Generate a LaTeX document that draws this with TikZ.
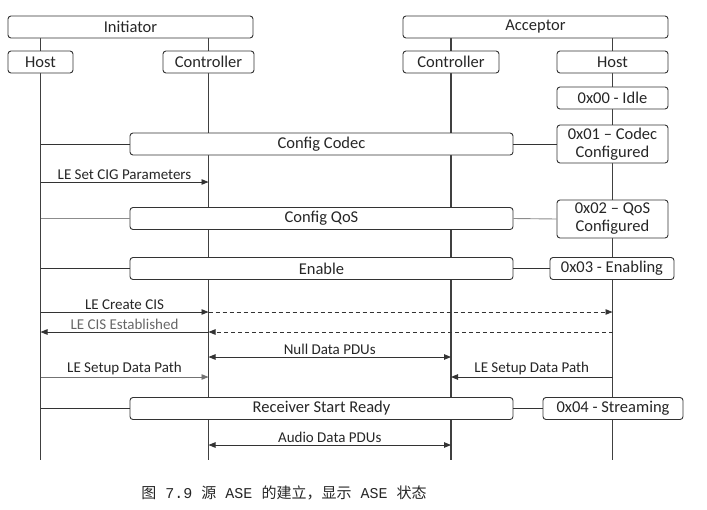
\documentclass[tikz,border=0pt]{standalone}
\usepackage{fontspec}
\setmainfont{Carlito}
\setmonofont{Liberation Mono}
\newfontfamily\cjk{Noto Sans CJK SC}
\usetikzlibrary{arrows.meta,backgrounds}

\begin{document}
\begin{tikzpicture}[x=1pt,y=-1pt,
        box/.style={draw=black!80,fill=white,rounded corners=3pt,line width=0.9pt,inner sep=0pt,
            minimum height=22pt,text=black!85,font=\fontsize{16.5}{18}\selectfont},
        state/.style={box,align=center},
        life/.style={black!75,line width=1.2pt},
        link/.style={black!80,line width=0.9pt},
        msg/.style={link,-{Triangle[length=7pt,width=5.5pt]}},
        dmsg/.style={link,{Triangle[length=7pt,width=5.5pt]}-{Triangle[length=7pt,width=5.5pt]}},
        lbl/.style={font=\fontsize{15}{16}\selectfont,text=black!85,inner sep=1.5pt}]
    \useasboundingbox (0,0) rectangle (707,509);
    % participants
    \node[box,minimum width=245pt] (init) at (130.5,27) {Initiator};
    \node[box,minimum width=265pt] (acc) at (535.5,27) {Acceptor};
    \node[box,minimum width=65pt] (iH) at (40.5,62) {Host};
    \node[box,minimum width=91pt] (iC) at (208.5,62) {Controller};
    \node[box,minimum width=96pt] (aC) at (451,62) {Controller};
    \node[box,minimum width=111pt] (aH) at (612.5,62) {Host};
    % procedures and states
    \node[state,minimum width=111pt] (s0) at (612.5,98) {0x00 - Idle};
    \node[box,minimum width=383pt] (codec) at (321.5,144) {Config Codec};
    \node[state,minimum width=111pt,minimum height=38pt] (s1) at (612.5,144) {0x01 -- Codec\\Configured};
    \node[box,minimum width=383pt] (qos) at (321.5,218.5) {Config QoS};
    \node[state,minimum width=111pt,minimum height=38pt] (s2) at (612.5,219) {0x02 -- QoS\\Configured};
    \node[box,minimum width=383pt] (enable) at (321.5,268.5) {Enable};
    \node[state,minimum width=124pt] (s3) at (612,268.5) {0x03 - Enabling};
    \node[box,minimum width=383pt] (rsr) at (321.5,408.5) {Receiver Start Ready};
    \node[state,minimum width=140pt] (s4) at (613,408.5) {0x04 - Streaming};

    \foreach \n/\y in {cig/182,cis/312,est/332,null/357,path/377,audio/445,bot/460}
        \coordinate (\n) at (0,\y);

    % lifelines
    \begin{pgfonlayer}{background}
        \foreach \p/\top in {iH/init,iC/init,aC/acc,aH/acc}
            \draw[life] (\p |- \top.south) -- (\p |- bot);
    \end{pgfonlayer}

    \draw[link] (iH |- codec) -- (codec.west);
    \draw[link] (codec.east) -- (s1.west);
    \draw[link,black!45] (iH |- qos) -- (qos.west);
    \draw[link,black!45] (qos.east) -- (s2.west);
    \draw[link] (iH |- enable) -- (enable.west);
    \draw[link] (enable.east) -- (s3.west);
    \draw[link] (iH |- rsr) -- (rsr.west);
    \draw[link] (rsr.east) -- (s4.west);

    % messages
    \draw[msg] (iH |- cig) -- node[lbl,above] {LE Set CIG Parameters} (iC |- cig);
    \draw[msg] (iH |- cis) -- node[lbl,above] {LE Create CIS} (iC |- cis);
    \draw[msg,dash pattern=on 4pt off 3pt] (iC |- cis) -- (aH |- cis);
    \draw[msg,dash pattern=on 4pt off 3pt] (aH |- est) -- (iC |- est);
    \draw[msg] (iC |- est) -- node[lbl,above,text=black!60] {LE CIS Established} (iH |- est);
    \draw[dmsg] (iC |- null) -- node[lbl,above] {Null Data PDUs} (aC |- null);
    \draw[msg,black!55] (iH |- path) -- node[lbl,above] {LE Setup Data Path} (iC |- path);
    \draw[msg] (aH |- path) -- node[lbl,above] {LE Setup Data Path} (aC |- path);
    \draw[dmsg] (iC |- audio) -- node[lbl,above] {Audio Data PDUs} (aC |- audio);

    \node[font=\fontsize{15}{17}\selectfont,text=black!85] (cap) at (284,493)
        {\cjk 图{\ttfamily{} 7.9 }源{\ttfamily{} ASE }的建立，显示{\ttfamily{} ASE }状态};
\end{tikzpicture}
\end{document}
